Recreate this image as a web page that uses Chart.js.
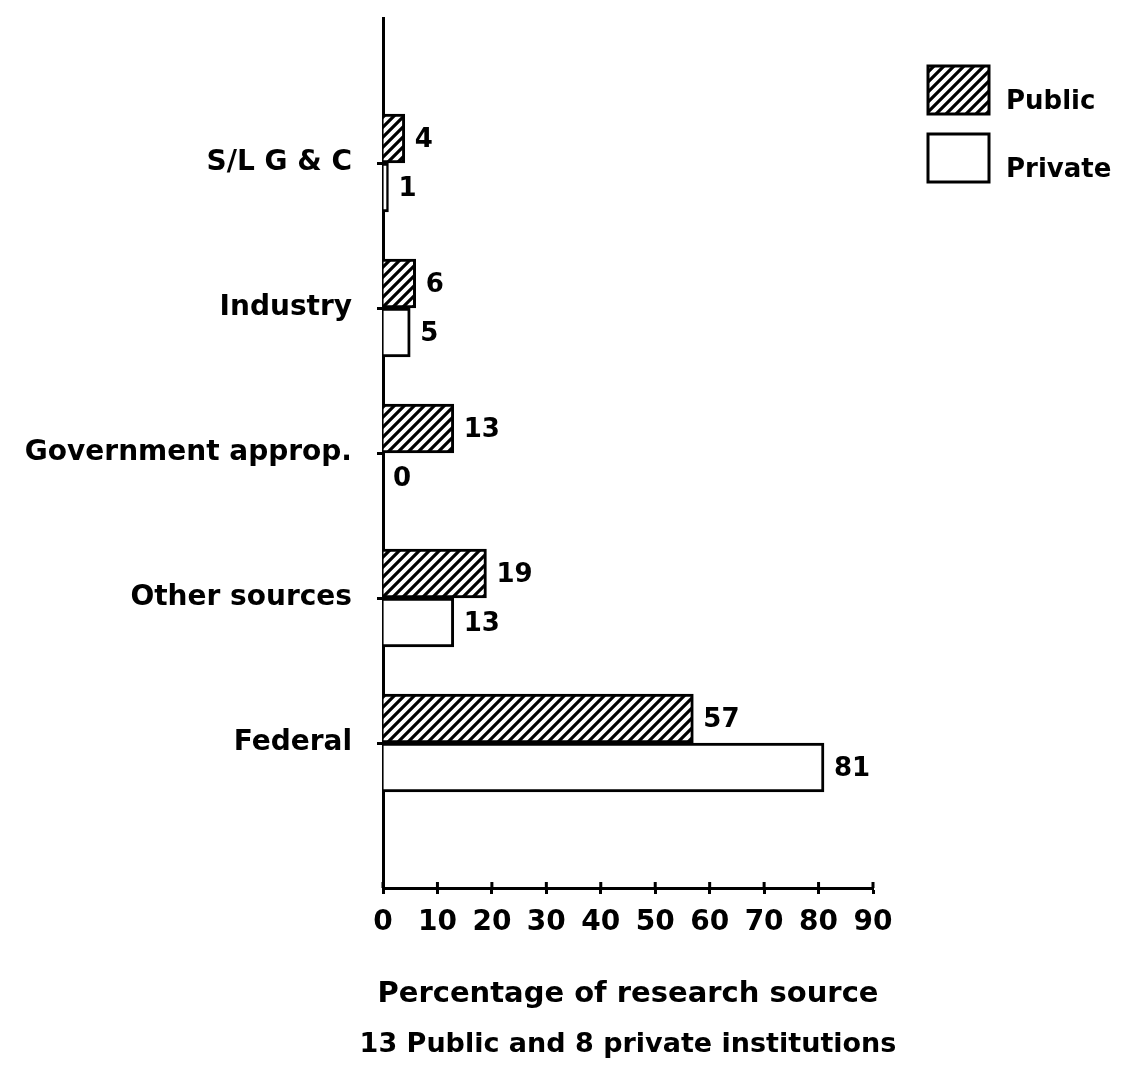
<!DOCTYPE html>
<html>
<head>
<meta charset="utf-8">
<style>
  html, body { margin: 0; padding: 0; background: #fff; }
  #wrap { width: 1121px; height: 1078px; }
</style>
<script src="https://cdn.jsdelivr.net/npm/chart.js@4.4.1/dist/chart.umd.min.js"></script>
</head>
<body>
<div id="wrap"><canvas id="chart" width="1121" height="1078"></canvas></div>
<script>
// data
var categories = ['S/L G & C', 'Industry', 'Government approp.', 'Other sources', 'Federal'];
var publicValues = [4, 6, 13, 19, 57];
var privateValues = [1, 5, 0, 13, 81];
var seriesNames = ['Public', 'Private'];
var xTickValues = [0, 10, 20, 30, 40, 50, 60, 70, 80, 90];
var axisTitle = ['Percentage of research source', '13 Public and 8 private institutions'];

var FONT = "'DejaVu Sans', sans-serif";

// blank slot above and below so the categories sit like the original
var labels = [''].concat(categories, ['']);
var publicData = [null].concat(publicValues, [null]);
var privateData = [null].concat(privateValues, [null]);

function makeHatch() {
    var c = document.createElement('canvas');
    c.width = 10;
    c.height = 10;
    var g = c.getContext('2d');
    g.fillStyle = '#fff';
    g.fillRect(0, 0, 10, 10);
    g.strokeStyle = '#000';
    g.lineWidth = 3.2;
    g.beginPath();
    g.moveTo(-5, 5); g.lineTo(5, -5);
    g.moveTo(0, 10); g.lineTo(10, 0);
    g.moveTo(5, 15); g.lineTo(15, 5);
    g.stroke();
    return g.createPattern(c, 'repeat');
}

var hatch = makeHatch();

// numbers at the end of each bar
var valueLabels = {
    id: 'valueLabels',
    afterDatasetsDraw: function (chart) {
        var ctx = chart.ctx;
        ctx.save();
        ctx.font = 'bold 26px ' + FONT;
        ctx.fillStyle = '#000';
        ctx.textAlign = 'left';
        ctx.textBaseline = 'middle';
        chart.data.datasets.forEach(function (ds, i) {
            chart.getDatasetMeta(i).data.forEach(function (bar, j) {
                var v = ds.data[j];
                if (v === null || v === undefined) return;
                ctx.fillText(String(v), bar.x + 10, bar.y + 2);
            });
        });
        ctx.restore();
    }
};

// x ticks cross the axis line, and the two-line axis title underneath
var xAxisExtras = {
    id: 'xAxisExtras',
    afterDraw: function (chart) {
        var x = chart.scales.x, ctx = chart.ctx;
        ctx.save();
        ctx.strokeStyle = '#000';
        ctx.lineWidth = 3;
        x.ticks.forEach(function (t) {
            var px = x.getPixelForValue(t.value);
            ctx.beginPath();
            ctx.moveTo(px, x.top - 6);
            ctx.lineTo(px, x.top);
            ctx.stroke();
        });
        ctx.fillStyle = '#000';
        ctx.textAlign = 'center';
        ctx.textBaseline = 'middle';
        var cx = (x.left + x.right) / 2;
        var sizes = [29, 27];
        axisTitle.forEach(function (line, i) {
            ctx.font = 'bold ' + sizes[i] + 'px ' + FONT;
            ctx.fillText(line, cx, x.top + 106 + i * 51);
        });
        ctx.restore();
    }
};

// legend in the top right corner
var boxLegend = {
    id: 'boxLegend',
    afterDraw: function (chart) {
        var ctx = chart.ctx;
        var boxTops = [66, 134], textMid = [102, 170];
        ctx.save();
        chart.data.datasets.forEach(function (ds, i) {
            ctx.fillStyle = ds.backgroundColor;
            ctx.fillRect(928, boxTops[i], 61, 48);
            ctx.strokeStyle = '#000';
            ctx.lineWidth = 3;
            ctx.strokeRect(928, boxTops[i], 61, 48);
            ctx.fillStyle = '#000';
            ctx.font = 'bold 26px ' + FONT;
            ctx.textAlign = 'left';
            ctx.textBaseline = 'middle';
            ctx.fillText(ds.label, 1006, textMid[i]);
        });
        ctx.restore();
    }
};

new Chart(document.getElementById('chart'), {
    type: 'bar',
    data: {
        labels: labels,
        datasets: [
            {
                label: seriesNames[0],
                data: publicData,
                backgroundColor: hatch,
                borderColor: '#000',
                borderWidth: 3,
                barThickness: 49
            },
            {
                label: seriesNames[1],
                data: privateData,
                backgroundColor: '#fff',
                borderColor: '#000',
                borderWidth: 3,
                barThickness: 49
            }
        ]
    },
    options: {
        indexAxis: 'y',
        responsive: false,
        animation: false,
        layout: { padding: { top: 18, right: 248, left: 0, bottom: 0 } },
        plugins: {
            legend: { display: false },
            tooltip: { enabled: false }
        },
        scales: {
            x: {
                type: 'linear',
                min: 0,
                max: 90,
                afterBuildTicks: function (s) {
                    s.ticks = xTickValues.map(function (v) { return { value: v }; });
                },
                afterFit: function (s) {
                    s.height = 190;
                    s.paddingLeft = 0;
                    s.paddingRight = 0;
                },
                grid: { drawOnChartArea: false, tickLength: 6, tickWidth: 3, tickColor: '#000' },
                border: { color: '#000', width: 3 },
                ticks: {
                    autoSkip: false,
                    maxRotation: 0,
                    padding: 12,
                    color: '#000',
                    font: { family: FONT, size: 28, weight: 'bold' }
                }
            },
            y: {
                type: 'category',
                offset: false,
                afterFit: function (s) {
                    s.width = 383;
                    s.paddingTop = 0;
                    s.paddingBottom = 0;
                },
                grid: {
                    offset: false,
                    drawOnChartArea: false,
                    tickLength: 6,
                    tickWidth: 3,
                    tickColor: function (c) { return c.tick && c.tick.label ? '#000' : 'rgba(0,0,0,0)'; }
                },
                border: { color: '#000', width: 3 },
                ticks: {
                    autoSkip: false,
                    padding: 25,
                    color: '#000',
                    font: { family: FONT, size: 28, weight: 'bold' }
                }
            }
        }
    },
    plugins: [valueLabels, xAxisExtras, boxLegend]
});
</script>
</body>
</html>
